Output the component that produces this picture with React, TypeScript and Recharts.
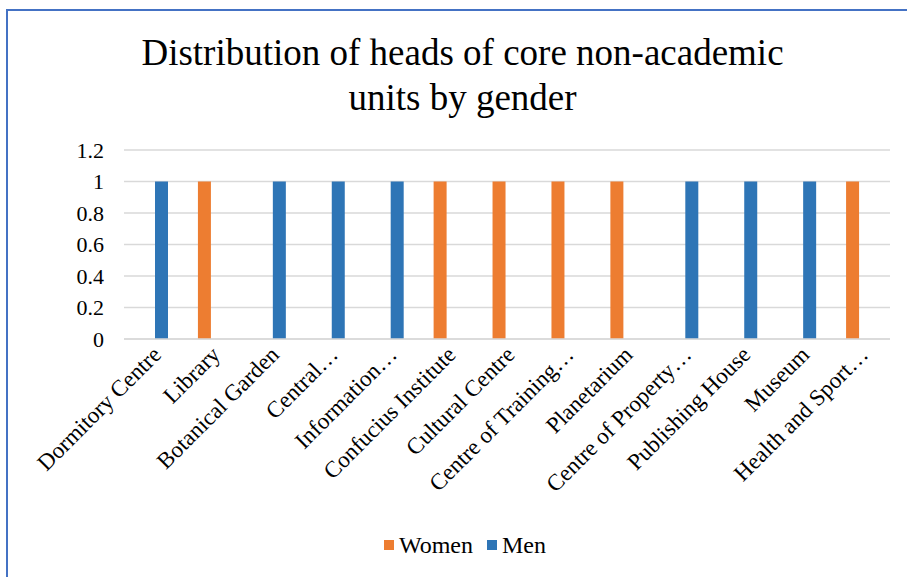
import { BarChart, Bar, CartesianGrid, XAxis, YAxis } from 'recharts';

const units = [
  'Dormitory Centre',
  'Library',
  'Botanical Garden',
  'Central…',
  'Information…',
  'Confucius Institute',
  'Cultural Centre',
  'Centre of Training…',
  'Planetarium',
  'Centre of Property…',
  'Publishing House',
  'Museum',
  'Health and Sport…',
];
const women = [0, 1, 0, 0, 0, 1, 1, 1, 1, 0, 0, 0, 1];
const men = [1, 0, 1, 1, 1, 0, 0, 0, 0, 1, 1, 1, 0];
const yTicks = [0, 0.2, 0.4, 0.6, 0.8, 1, 1.2];

const chartData = units.map((unit, i) => ({ unit, women: women[i], men: men[i] }));

const FONT = '"Liberation Serif", "Times New Roman", serif';
const WOMEN_COLOR = '#ED7D31';
const MEN_COLOR = '#2E75B6';

const legendItems = [
  { label: 'Women', color: WOMEN_COLOR },
  { label: 'Men', color: MEN_COLOR },
];

function SlantedTick({ x, y, payload }: any) {
  const tx = x + 9;
  const ty = y + 9;
  return (
    <text
      x={tx}
      y={ty}
      transform={`rotate(-45, ${tx}, ${ty})`}
      textAnchor="end"
      fontFamily={FONT}
      fontSize={23}
      fill="#000"
    >
      {payload.value}
    </text>
  );
}

export default function App() {
  return (
    <div style={{ position: 'absolute', left: 0, top: 0, width: 907, height: 577, overflow: 'hidden', background: '#fff' }}>
      <div
        style={{
          position: 'absolute',
          left: 6,
          top: 9,
          width: 1000,
          height: 1000,
          border: '2px solid #4472C4',
        }}
      />
      <div
        style={{
          position: 'absolute',
          left: 0,
          top: 30,
          width: 925,
          textAlign: 'center',
          fontFamily: FONT,
          fontSize: 37,
          lineHeight: '45px',
          color: '#000',
        }}
      >
        Distribution of heads of core non-academic
        <br />
        units by gender
      </div>
      <div style={{ position: 'absolute', left: 0, top: 0 }}>
        <BarChart
          width={907}
          height={577}
          data={chartData}
          margin={{ top: 150, right: 17, bottom: 208, left: 0 }}
          barSize={13}
          barGap={3}
        >
          <CartesianGrid vertical={false} stroke="#D9D9D9" strokeWidth={1.5} />
          <XAxis
            dataKey="unit"
            interval={0}
            height={30}
            tick={<SlantedTick />}
            tickLine={false}
            axisLine={{ stroke: '#D9D9D9', strokeWidth: 1.5 }}
          />
          <YAxis
            width={124}
            domain={[0, 1.2]}
            ticks={yTicks}
            axisLine={false}
            tickLine={false}
            tickMargin={14}
            tick={{ fontFamily: FONT, fontSize: 22, fill: '#000' }}
          />
          <Bar dataKey="women" name="Women" fill={WOMEN_COLOR} isAnimationActive={false} />
          <Bar dataKey="men" name="Men" fill={MEN_COLOR} isAnimationActive={false} />
        </BarChart>
      </div>
      <div
        style={{
          position: 'absolute',
          left: 0,
          top: 531,
          width: 930,
          display: 'flex',
          justifyContent: 'center',
          gap: 14,
          fontFamily: FONT,
          fontSize: 24,
          lineHeight: '28px',
          color: '#000',
        }}
      >
        {legendItems.map((item) => (
          <span key={item.label} style={{ display: 'flex', alignItems: 'center', gap: 5 }}>
            <span style={{ width: 10, height: 10, background: item.color, display: 'inline-block' }} />
            {item.label}
          </span>
        ))}
      </div>
    </div>
  );
}
